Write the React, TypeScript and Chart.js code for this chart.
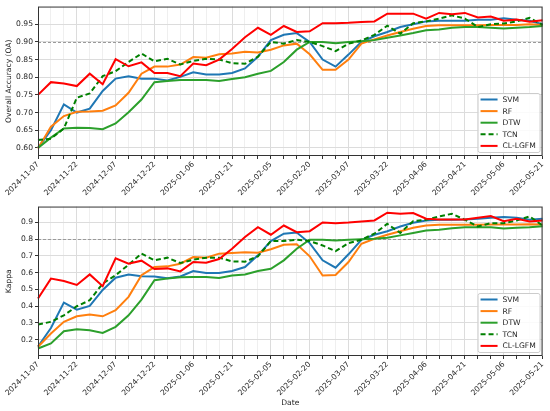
import React, { useEffect, useRef } from "react";
import { Chart, registerables } from "chart.js";
Chart.register(...registerables);

const DATES = [
  "2024-11-07", "2024-11-12", "2024-11-17", "2024-11-22", "2024-11-27", "2024-12-02",
  "2024-12-07", "2024-12-12", "2024-12-17", "2024-12-22", "2024-12-27", "2025-01-01",
  "2025-01-06", "2025-01-11", "2025-01-16", "2025-01-21", "2025-01-26", "2025-01-31",
  "2025-02-05", "2025-02-10", "2025-02-15", "2025-02-20", "2025-02-25", "2025-03-02",
  "2025-03-07", "2025-03-12", "2025-03-17", "2025-03-22", "2025-03-27", "2025-04-01",
  "2025-04-06", "2025-04-11", "2025-04-16", "2025-04-21", "2025-04-26", "2025-05-01",
  "2025-05-06", "2025-05-11", "2025-05-16", "2025-05-21",
];

const SERIES_NAMES = ["SVM", "RF", "DTW", "TCN", "CL-LGFM"];
const SERIES_COLORS = ["#1f77b4", "#ff7f0e", "#2ca02c", "#008000", "#ff0000"];
const SERIES_DASH = [[], [], [], [5, 3], []];

const OA_SVM = [0.60, 0.65, 0.723, 0.70, 0.711, 0.761, 0.796, 0.803, 0.796, 0.796, 0.791, 0.801, 0.814, 0.808, 0.808, 0.812, 0.825, 0.858, 0.905, 0.92, 0.925, 0.90, 0.85, 0.83, 0.864, 0.90, 0.916, 0.928, 0.942, 0.95, 0.958, 0.96, 0.96, 0.96, 0.963, 0.963, 0.967, 0.963, 0.96, 0.95];
const OA_RF = [0.598, 0.66, 0.69, 0.702, 0.703, 0.705, 0.72, 0.756, 0.81, 0.83, 0.83, 0.836, 0.857, 0.855, 0.865, 0.867, 0.872, 0.87, 0.878, 0.89, 0.895, 0.865, 0.821, 0.821, 0.85, 0.895, 0.907, 0.918, 0.928, 0.937, 0.945, 0.947, 0.947, 0.947, 0.947, 0.948, 0.948, 0.948, 0.95, 0.948];
const OA_DTW = [0.60, 0.629, 0.655, 0.657, 0.656, 0.653, 0.669, 0.701, 0.737, 0.786, 0.789, 0.792, 0.792, 0.792, 0.789, 0.795, 0.80, 0.81, 0.818, 0.843, 0.878, 0.90, 0.90, 0.896, 0.90, 0.902, 0.905, 0.912, 0.918, 0.925, 0.933, 0.935, 0.94, 0.942, 0.942, 0.94, 0.938, 0.94, 0.942, 0.945];
const OA_TCN = [0.622, 0.626, 0.655, 0.742, 0.754, 0.803, 0.817, 0.843, 0.867, 0.845, 0.852, 0.836, 0.846, 0.852, 0.85, 0.84, 0.838, 0.858, 0.90, 0.895, 0.905, 0.90, 0.888, 0.874, 0.895, 0.904, 0.92, 0.946, 0.923, 0.953, 0.958, 0.966, 0.975, 0.966, 0.942, 0.95, 0.952, 0.958, 0.968, 0.948];
const OA_CL = [0.75, 0.786, 0.782, 0.775, 0.81, 0.78, 0.851, 0.831, 0.842, 0.812, 0.812, 0.803, 0.839, 0.834, 0.85, 0.88, 0.913, 0.94, 0.92, 0.945, 0.928, 0.93, 0.953, 0.953, 0.954, 0.956, 0.958, 0.98, 0.98, 0.98, 0.966, 0.982, 0.978, 0.982, 0.969, 0.972, 0.96, 0.963, 0.957, 0.961];

const K_SVM = [0.16, 0.27, 0.422, 0.38, 0.402, 0.497, 0.57, 0.59, 0.579, 0.578, 0.567, 0.578, 0.61, 0.598, 0.598, 0.61, 0.634, 0.704, 0.789, 0.833, 0.84, 0.777, 0.674, 0.63, 0.71, 0.797, 0.827, 0.848, 0.876, 0.898, 0.912, 0.916, 0.916, 0.918, 0.922, 0.928, 0.932, 0.928, 0.916, 0.922];
const K_RF = [0.158, 0.237, 0.307, 0.34, 0.35, 0.34, 0.376, 0.456, 0.585, 0.634, 0.638, 0.654, 0.694, 0.69, 0.714, 0.718, 0.723, 0.72, 0.74, 0.767, 0.77, 0.698, 0.583, 0.587, 0.664, 0.773, 0.803, 0.827, 0.848, 0.868, 0.882, 0.886, 0.886, 0.886, 0.886, 0.888, 0.888, 0.888, 0.89, 0.888];
const K_DTW = [0.148, 0.178, 0.251, 0.263, 0.257, 0.241, 0.277, 0.346, 0.44, 0.555, 0.565, 0.573, 0.575, 0.575, 0.569, 0.583, 0.59, 0.61, 0.624, 0.674, 0.743, 0.797, 0.797, 0.793, 0.797, 0.80, 0.803, 0.809, 0.823, 0.837, 0.852, 0.856, 0.866, 0.872, 0.872, 0.872, 0.864, 0.868, 0.872, 0.878];
const K_TCN = [0.291, 0.307, 0.346, 0.40, 0.436, 0.535, 0.585, 0.648, 0.714, 0.674, 0.69, 0.658, 0.678, 0.69, 0.69, 0.668, 0.666, 0.698, 0.789, 0.789, 0.797, 0.789, 0.763, 0.729, 0.777, 0.797, 0.833, 0.892, 0.838, 0.908, 0.916, 0.936, 0.952, 0.916, 0.876, 0.896, 0.896, 0.912, 0.936, 0.882];
const K_CL = [0.446, 0.565, 0.551, 0.527, 0.59, 0.52, 0.686, 0.654, 0.672, 0.622, 0.626, 0.608, 0.664, 0.66, 0.682, 0.743, 0.813, 0.872, 0.827, 0.882, 0.842, 0.848, 0.90, 0.896, 0.90, 0.906, 0.912, 0.958, 0.952, 0.956, 0.922, 0.918, 0.918, 0.918, 0.928, 0.938, 0.908, 0.922, 0.906, 0.912];

const OA_TICKS = [0.60, 0.65, 0.70, 0.75, 0.80, 0.85, 0.90, 0.95];
const KAPPA_TICKS = [0.2, 0.3, 0.4, 0.5, 0.6, 0.7, 0.8, 0.9];
const OA_REF = 0.9;
const KAPPA_REF = 0.8;

const FONT_FAMILY = "'DejaVu Sans', sans-serif";
const TEXT_COLOR = "#262626";

const framePlugin = {
  id: "frame",
  afterDraw(chart: any) {
    const { ctx, chartArea: a } = chart;
    ctx.save();
    ctx.strokeStyle = "#333333";
    ctx.lineWidth = 1;
    ctx.strokeRect(a.left + 0.5, a.top + 0.5, a.right - a.left - 1, a.bottom - a.top - 1);
    ctx.restore();
  },
};

const refLinePlugin = {
  id: "refLine",
  beforeDatasetsDraw(chart: any, _args: any, opts: any) {
    const { ctx, chartArea: a, scales } = chart;
    const y = Math.round(scales.y.getPixelForValue(opts.value)) + 0.5;
    ctx.save();
    ctx.strokeStyle = "#9a9a9a";
    ctx.lineWidth = 1;
    ctx.setLineDash([3, 2]);
    ctx.beginPath();
    ctx.moveTo(a.left, y);
    ctx.lineTo(a.right, y);
    ctx.stroke();
    ctx.restore();
  },
};

const boxLegendPlugin = {
  id: "boxLegend",
  afterDraw(chart: any) {
    const { ctx, chartArea: a } = chart;
    const w = 62;
    const h = 59;
    const left = a.right - 3 - w;
    const top = a.bottom - 4 - h;
    ctx.save();
    ctx.fillStyle = "rgba(255,255,255,0.85)";
    ctx.strokeStyle = "#cccccc";
    ctx.lineWidth = 1;
    ctx.beginPath();
    ctx.roundRect(left + 0.5, top + 0.5, w, h, 2);
    ctx.fill();
    ctx.stroke();
    ctx.font = `7.6px ${FONT_FAMILY}`;
    ctx.textBaseline = "middle";
    ctx.textAlign = "left";
    chart.data.datasets.forEach((ds: any, i: number) => {
      const cy = top + 6.5 + i * 11.6;
      ctx.strokeStyle = ds.borderColor;
      ctx.lineWidth = 2;
      ctx.setLineDash(ds.borderDash || []);
      ctx.beginPath();
      ctx.moveTo(left + 3, cy);
      ctx.lineTo(left + 20, cy);
      ctx.stroke();
      ctx.setLineDash([]);
      ctx.fillStyle = TEXT_COLOR;
      ctx.fillText(ds.label, left + 25, cy + 0.5);
    });
    ctx.restore();
  },
};

function makeConfig(
  series: number[][],
  ticks: number[],
  yMin: number,
  yMax: number,
  decimals: number,
  yTitle: string,
  refValue: number,
  xHeight: number,
  showXTitle: boolean
): any {
  const font = { family: FONT_FAMILY, size: 7.6 };
  return {
    type: "line",
    data: {
      labels: DATES,
      datasets: series.map((d, i) => ({
        label: SERIES_NAMES[i],
        data: d,
        borderColor: SERIES_COLORS[i],
        backgroundColor: SERIES_COLORS[i],
        borderDash: SERIES_DASH[i],
        borderWidth: 2,
        pointRadius: 0,
        tension: 0,
        fill: false,
        order: series.length - 1 - i,
      })),
    },
    options: {
      responsive: false,
      animation: false,
      layout: { padding: { top: 6, right: 6, left: 0, bottom: 0 } },
      plugins: {
        legend: { display: false },
        tooltip: { enabled: false },
        refLine: { value: refValue },
      },
      scales: {
        x: {
          type: "category",
          offset: false,
          grid: {
            offset: false,
            color: (c: any) => (c.index % 3 === 0 ? "#dcdcdc" : "#efefef"),
            tickColor: "#333333",
            tickLength: 3,
          },
          border: { display: false },
          ticks: {
            autoSkip: false,
            minRotation: 45,
            maxRotation: 45,
            padding: 1,
            font,
            color: TEXT_COLOR,
            callback: (_v: any, i: number) => (i % 3 === 0 ? DATES[i] : ""),
          },
          title: {
            display: showXTitle,
            text: "Date",
            font: { family: FONT_FAMILY, size: 7.6 },
            color: TEXT_COLOR,
            padding: { top: 0, bottom: 3 },
          },
          afterFit: (s: any) => {
            s.height = xHeight;
          },
        },
        y: {
          min: yMin,
          max: yMax,
          afterBuildTicks: (s: any) => {
            s.ticks = ticks.map((v) => ({ value: v }));
          },
          grid: { color: "#dcdcdc", tickColor: "#333333", tickLength: 3 },
          border: { display: false },
          ticks: {
            padding: 2,
            font,
            color: TEXT_COLOR,
            callback: (v: any) => Number(v).toFixed(decimals),
          },
          title: {
            display: true,
            text: yTitle,
            font: { family: FONT_FAMILY, size: 7.6 },
            color: TEXT_COLOR,
            padding: { top: 4, bottom: 0 },
          },
          afterFit: (s: any) => {
            s.width = 38;
          },
        },
      },
    },
    plugins: [refLinePlugin, framePlugin, boxLegendPlugin],
  };
}

export default function App() {
  const topRef = useRef<HTMLCanvasElement>(null);
  const botRef = useRef<HTMLCanvasElement>(null);

  useEffect(() => {
    const c1 = new Chart(
      topRef.current as HTMLCanvasElement,
      makeConfig([OA_SVM, OA_RF, OA_DTW, OA_TCN, OA_CL], OA_TICKS, 0.577, 1.0, 2, "Overall Accuracy (OA)", OA_REF, 44, false)
    );
    const c2 = new Chart(
      botRef.current as HTMLCanvasElement,
      makeConfig([K_SVM, K_RF, K_DTW, K_TCN, K_CL], KAPPA_TICKS, 0.103, 0.995, 1, "Kappa", KAPPA_REF, 55, true)
    );
    return () => {
      c1.destroy();
      c2.destroy();
    };
  }, []);

  return (
    <div style={{ position: "absolute", left: 0, top: 0, width: 550, height: 411, background: "#fff" }}>
      <canvas ref={topRef} width={550} height={200} style={{ position: "absolute", left: 0, top: 0, width: 550, height: 200 }} />
      <canvas ref={botRef} width={550} height={211} style={{ position: "absolute", left: 0, top: 200, width: 550, height: 211 }} />
    </div>
  );
}
